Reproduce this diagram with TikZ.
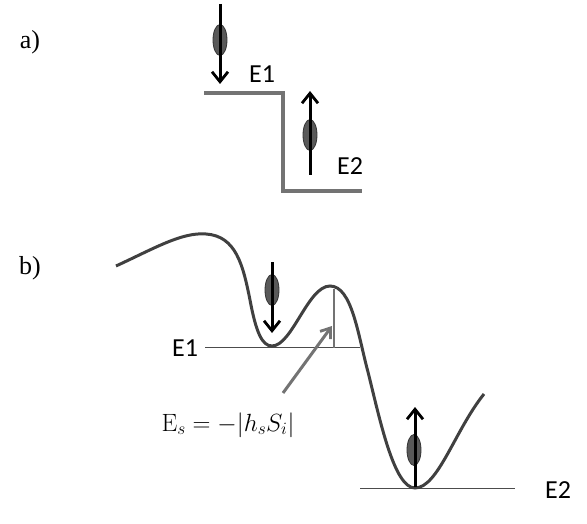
\documentclass[tikz,border=0pt]{standalone}
\usepackage{fontspec}
\setsansfont{Carlito}
\newfontfamily\tagfont{Liberation Serif}
\usetikzlibrary{arrows.meta,shapes.geometric}
\begin{document}
\begin{tikzpicture}[x=1pt,y=-1pt,
  spinbody/.style={ellipse, fill=black!65, draw=black!80, line width=0.8pt, minimum width=14pt, minimum height=31pt, inner sep=0pt},
  spinarrow/.style={line width=3pt, black, -{Straight Barb[length=10pt,width=16pt,line width=2.8pt]}},
  lbl/.style={font=\sffamily\fontsize{26}{26}\selectfont, inner sep=0pt},
  tag/.style={font=\tagfont\fontsize{26}{26}\selectfont, inner sep=0pt},
  level/.style={draw=black!70, line width=1pt},
  steppath/.style={draw=black!55, line width=3.2pt},
  curvepath/.style={draw=black!75, line width=3pt},
  pointer/.style={draw=black!55, line width=3pt, -{Straight Barb[length=9pt,width=13pt,line width=2.8pt]}}]
\useasboundingbox (0,0) rectangle (587,524);
% labels a) b)
\node[tag] (ta) at (30,42) {a)};
\node[tag] (tb) at (30,268) {b)};
% panel a
\draw[steppath] (204,93) -- (283,93) -- (283,191) -- (362,191);
\node[spinbody] (sa1) at (220,40) {};
\coordinate (sa1t) at (220,4);
\coordinate (sa1b) at (220,84);
\draw[spinarrow] (sa1t) -- (sa1b);
\node[spinbody] (sa2) at (310,135) {};
\coordinate (sa2b) at (310,175);
\coordinate (sa2t) at (310,91);
\draw[spinarrow] (sa2b) -- (sa2t);
\node[lbl] (ae1) at (262,74) {E1};
\node[lbl] (ae2) at (350,166) {E2};
% panel b
\coordinate (l1a) at (205,347);
\coordinate (l1b) at (360,347);
\draw[level] (l1a) -- (l1b);
\coordinate (l2a) at (360,488);
\coordinate (l2b) at (515,488);
\draw[level] (l2a) -- (l2b);
\draw[curvepath] (116,266) .. controls (155,248) and (182,232) .. (206,234)
  .. controls (236,236) and (243,265) .. (250,300)
  .. controls (256,332) and (262,346) .. (272,346)
  .. controls (292,346) and (308,286) .. (330,286)
  .. controls (352,286) and (358,335) .. (368,372)
  .. controls (380,420) and (394,488) .. (415,488)
  .. controls (438,488) and (455,430) .. (484,394);
\coordinate (vt) at (334,289);
\coordinate (vb) at (334,348);
\draw[draw=black!55, line width=2.5pt] (vt) -- (vb);
\coordinate (pa) at (283,393);
\coordinate (pb) at (332,326);
\draw[pointer] (pa) -- (pb);
\node[spinbody] (sb1) at (272,290) {};
\coordinate (sb1t) at (272,262);
\coordinate (sb1b) at (272,333);
\draw[spinarrow] (sb1t) -- (sb1b);
\node[spinbody] (sb2) at (414,450) {};
\coordinate (sb2b) at (415,487);
\coordinate (sb2t) at (415,407);
\draw[spinarrow] (sb2b) -- (sb2t);
\node[lbl] (be1) at (185,348) {E1};
\node[lbl] (be2) at (558,490) {E2};
\node[font=\fontsize{25}{25}\selectfont, inner sep=0pt] (es) at (228,425) {$\mathrm{E}_s = -|h_s S_i|$};
\end{tikzpicture}
\end{document}
